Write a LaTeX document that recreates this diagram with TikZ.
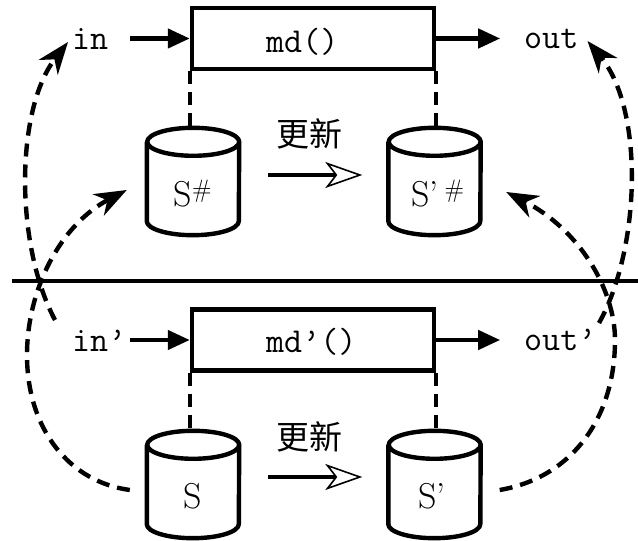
\documentclass[tikz,border=0pt]{standalone}
\usepackage{fontspec}
\newfontfamily\cjk{Noto Sans CJK SC}
\usetikzlibrary{arrows.meta,calc}

% drum (storage) outline drawn around a rectangular node
\newcommand\drawdrum[1]{%
  \draw[line width=4.4pt, line join=round]
    ([yshift=-14pt]#1.north west) -- ([yshift=14pt]#1.south west)
    arc[start angle=180, end angle=360, x radius=46pt, y radius=14pt]
    -- ([yshift=-14pt]#1.north east)
    arc[start angle=0, end angle=360, x radius=46pt, y radius=14pt];}

\begin{document}
\begin{tikzpicture}[x=1pt,y=1pt,
  proc/.style={draw, line width=4.4pt, minimum width=242pt, minimum height=61pt, inner sep=0pt},
  lbl/.style={font=\fontsize{35}{40}\selectfont\ttfamily, inner sep=0pt, anchor=base west},
  drumbox/.style={minimum width=92pt, minimum height=107pt, inner sep=0pt},
  drumtext/.style={font=\fontsize{36}{40}\selectfont, inner sep=0pt},
  upd/.style={font=\fontsize{33}{38}\selectfont\cjk, inner sep=0pt},
  flow/.style={line width=4.4pt, -{Triangle[length=22pt,width=19pt]}},
  link/.style={line width=4.4pt, dash pattern=on 13pt off 8pt},
  map/.style={link, -{Stealth[length=32pt,width=24pt,inset=10pt]}},
  updarrow/.style={line width=4.4pt, -{Stealth[open,length=37pt,width=26pt,inset=10pt,line width=1.6pt]}}
]
\fill[white, use as bounding box] (0,0) rectangle (638,541);

% divider between abstract (top) and concrete (bottom) level
\coordinate (divL) at (12,260);
\coordinate (divR) at (638,260);
\draw[line width=4.4pt] (divL) -- (divR);

% processing boxes
\node[proc] (mA) at (313,502.5) {};
\node[proc] (mB) at (313,201) {};
\node[lbl] (mdA) at (266,488) {md()};
\node[lbl] (mdB) at (266,188) {md’()};

% inputs and outputs
\node[lbl] (inA) at (72,491) {in};
\node[lbl] (outA) at (524,492) {out};
\node[lbl] (inB) at (72,189) {in’};
\node[lbl] (outB) at (524,190) {out’};

\draw[flow] ($(mA.west)+(-60,0)$) -- (mA.west);
\draw[flow] (mA.east) -- ($(mA.east)+(64,0)$);
\draw[flow] ($(mB.west)+(-60,0)$) -- (mB.west);
\draw[flow] (mB.east) -- ($(mB.east)+(64,0)$);

% state stores
\node[drumbox] (cA) at (193,359.5) {};
\node[drumbox] (cB) at (434.5,359.5) {};
\node[drumbox] (cC) at (193,56.5) {};
\node[drumbox] (cD) at (434.5,56.5) {};
\drawdrum{cA}\drawdrum{cB}\drawdrum{cC}\drawdrum{cD}
\node[drumtext] (tA) at (193,347) {S\textsuperscript{\#}};
\node[drumtext] (tB) at (438,347) {S’\,\textsuperscript{\#}};
\node[drumtext] (tC) at (193,45) {S};
\node[drumtext] (tD) at (432,45) {S’};

% box to store links
\draw[link] (mA.south west) -- (mA.south west |- cA.north);
\draw[link] (mA.south east) -- (mA.south east |- cB.north);
\draw[link] (mB.south west) -- (mB.south west |- cC.north);
\draw[link] (mB.south east) -- (mB.south east |- cD.north);

% state updates
\node[upd] (uA) at (309,407) {更新};
\node[upd] (uB) at (309,104) {更新};
\draw[updarrow] ($(cA.east)+(29,6.5)$) -- ($(cB.west)+(-26,6.5)$);
\draw[updarrow] ($(cC.east)+(29,7.5)$) -- ($(cD.west)+(-26,7.5)$);

% abstraction maps
\draw[map] ($(inB.base west)+(-17,32)$) .. controls (15,296) and (15,431) .. ($(inA.base west)+(-4,8)$);
\draw[map] ($(cC.west)+(-17,-5.5)$) .. controls (70,59) and (27,111) .. (27,186)
  .. controls (27,251) and (60,316) .. ($(cA.west)+(-20,-8.5)$);
\draw[map] ($(outB.base east)+(2.5,28)$) .. controls (640,291) and (645,431) .. ($(outA.base east)+(9,8)$);
\draw[map] ($(cD.east)+(19,-5.5)$) .. controls (570,63) and (615,121) .. (615,201)
  .. controls (615,251) and (580,311) .. ($(cB.east)+(25.5,-10.5)$);
\end{tikzpicture}
\end{document}
